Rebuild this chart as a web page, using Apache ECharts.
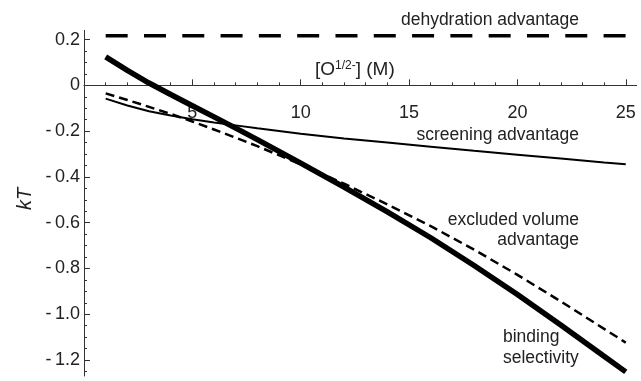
<!DOCTYPE html>
<html><head><meta charset="utf-8">
<script src="https://cdn.jsdelivr.net/npm/echarts@6/dist/echarts.min.js"></script>
<style>html,body{margin:0;padding:0;background:#fff}#c{width:641px;height:381px}</style>
</head><body><div id="c"></div>
<script>
// ---- data ----
const xValues   = [1, 2, 3, 4, 5, 6, 7, 8, 10, 12, 14, 16, 18, 20, 22, 24, 25];
const screening = [-0.058, -0.088, -0.113, -0.132, -0.148, -0.162, -0.175, -0.188, -0.212, -0.232, -0.250, -0.268, -0.286, -0.303, -0.320, -0.337, -0.345];
const excluded  = [-0.035, -0.064, -0.094, -0.125, -0.158, -0.193, -0.229, -0.266, -0.345, -0.430, -0.520, -0.615, -0.718, -0.828, -0.944, -1.064, -1.124];
const binding   = [0.124, 0.065, 0.010, -0.040, -0.089, -0.138, -0.187, -0.237, -0.340, -0.445, -0.553, -0.666, -0.787, -0.914, -1.047, -1.184, -1.252];
const dehydrationX = [1, 25];
const dehydration  = [0.217, 0.217];
const xMajorTicks = [5, 10, 15, 20, 25];
const yMajorTicks = [-1.2, -1.0, -0.8, -0.6, -0.4, -0.2, 0, 0.2];
const xMinorTicks = [1,2,3,4,5,6,7,8,9,10,11,12,13,14,15,16,17,18,19,20,21,22,23,24,25];
const yMinorTicks = [-1.25,-1.2,-1.15,-1.1,-1.05,-1.0,-0.95,-0.9,-0.85,-0.8,-0.75,-0.7,-0.65,-0.6,-0.55,-0.5,-0.45,-0.4,-0.35,-0.3,-0.25,-0.2,-0.15,-0.1,-0.05,0,0.05,0.1,0.15,0.2];

const FONT = 'Liberation Sans, Arial, sans-serif';
const AX = '#333';
const TXT = '#222';
const pairs = (xs, ys) => xs.map((x, i) => [x, ys[i]]);

const Y_MIN = -1.27, Y_MAX = 0.24;
const GRID = {left: 84, top: 30.4, width: 552.6, height: 345.6};
// distance from grid bottom up to the y = 0 line
const zeroOffset = GRID.height * (0 - Y_MIN) / (Y_MAX - Y_MIN);

const chart = echarts.init(document.getElementById('c'), null, {renderer: 'canvas'});
const yFmt = v => Math.abs(v) < 1e-9 ? '0' : (v < 0 ? '-\u2009' + Math.abs(v).toFixed(1) : v.toFixed(1));

chart.setOption({
  animation: false,
  backgroundColor: '#fff',
  grid: Object.assign({outerBoundsMode: 'none', containLabel: false}, GRID),
  xAxis: [
    {type: 'value', min: 0, max: 25.5, position: 'bottom',
     axisLine: {show: true, onZero: true, lineStyle: {color: AX, width: 1}},
     axisTick: {show: true, inside: true, length: 6, customValues: xMajorTicks, lineStyle: {color: AX, width: 1}},
     axisLabel: {show: false},
     splitLine: {show: false}},
    {type: 'value', min: 0, max: 25.5, position: 'bottom', offset: -zeroOffset,
     axisLine: {show: false, onZero: false},
     axisTick: {show: true, inside: true, length: 3, customValues: xMinorTicks, lineStyle: {color: AX, width: 1}},
     axisLabel: {show: true, customValues: xMajorTicks, margin: 19, fontSize: 18, color: TXT, fontFamily: FONT},
     splitLine: {show: false}}
  ],
  yAxis: [
    {type: 'value', min: Y_MIN, max: Y_MAX, position: 'left',
     axisLine: {show: true, onZero: false, lineStyle: {color: AX, width: 1}},
     axisTick: {show: true, inside: true, length: 3, customValues: yMinorTicks, lineStyle: {color: AX, width: 1}},
     axisLabel: {show: false}, splitLine: {show: false}},
    {type: 'value', min: Y_MIN, max: Y_MAX, position: 'left',
     axisLine: {show: false, onZero: false},
     axisTick: {show: true, inside: true, length: 6, customValues: yMajorTicks, lineStyle: {color: AX, width: 1}},
     axisLabel: {show: true, customValues: yMajorTicks, margin: 4, fontSize: 18, color: TXT, fontFamily: FONT, formatter: yFmt},
     splitLine: {show: false}}
  ],
  series: [
    {name: 'dehydration advantage', type: 'line', data: pairs(dehydrationX, dehydration), symbol: 'none',
     lineStyle: {color: '#000', width: 3.5, type: [22, 16.3]}, z: 2},
    {name: 'excluded volume advantage', type: 'line', data: pairs(xValues, excluded), symbol: 'none',
     lineStyle: {color: '#000', width: 2.5, type: [9, 5]}, z: 3},
    {name: 'screening advantage', type: 'line', data: pairs(xValues, screening), symbol: 'none',
     lineStyle: {color: '#000', width: 2}, z: 4},
    {name: 'binding selectivity', type: 'line', data: pairs(xValues, binding), symbol: 'none',
     lineStyle: {color: '#000', width: 5.5}, z: 5}
  ],
  graphic: [
    {type: 'text', x: 579, y: 20.4, style: {text: 'dehydration advantage', font: '17.5px ' + FONT, fill: TXT, textAlign: 'right', textVerticalAlign: 'middle'}},
    {type: 'text', x: 579, y: 135.4, style: {text: 'screening advantage', font: '17.5px ' + FONT, fill: TXT, textAlign: 'right', textVerticalAlign: 'middle'}},
    {type: 'text', x: 579, y: 220.6, style: {text: 'excluded volume', font: '17.5px ' + FONT, fill: TXT, textAlign: 'right', textVerticalAlign: 'middle'}},
    {type: 'text', x: 579, y: 240.6, style: {text: 'advantage', font: '17.5px ' + FONT, fill: TXT, textAlign: 'right', textVerticalAlign: 'middle'}},
    {type: 'text', x: 503, y: 337, style: {text: 'binding', font: '17.5px ' + FONT, fill: TXT, textAlign: 'left', textVerticalAlign: 'middle'}},
    {type: 'text', x: 503, y: 358, style: {text: 'selectivity', font: '17.5px ' + FONT, fill: TXT, textAlign: 'left', textVerticalAlign: 'middle'}},
    {type: 'text', x: 25, y: 199, rotation: Math.PI / 2,
     style: {text: 'kT', font: 'italic 20px ' + FONT, fill: TXT, textAlign: 'center', textVerticalAlign: 'middle'}},
    {type: 'text', x: 315, y: 70,
     style: {text: '{a|[O}{s|1/2-}{a|] (M)}', fill: TXT, textAlign: 'left', textVerticalAlign: 'middle',
       rich: {a: {fontSize: 19, fontFamily: FONT, fill: TXT, lineHeight: 21},
              s: {fontSize: 12, fontFamily: FONT, fill: TXT, lineHeight: 13, verticalAlign: 'top'}}}}
  ]
});
</script>
</body></html>
